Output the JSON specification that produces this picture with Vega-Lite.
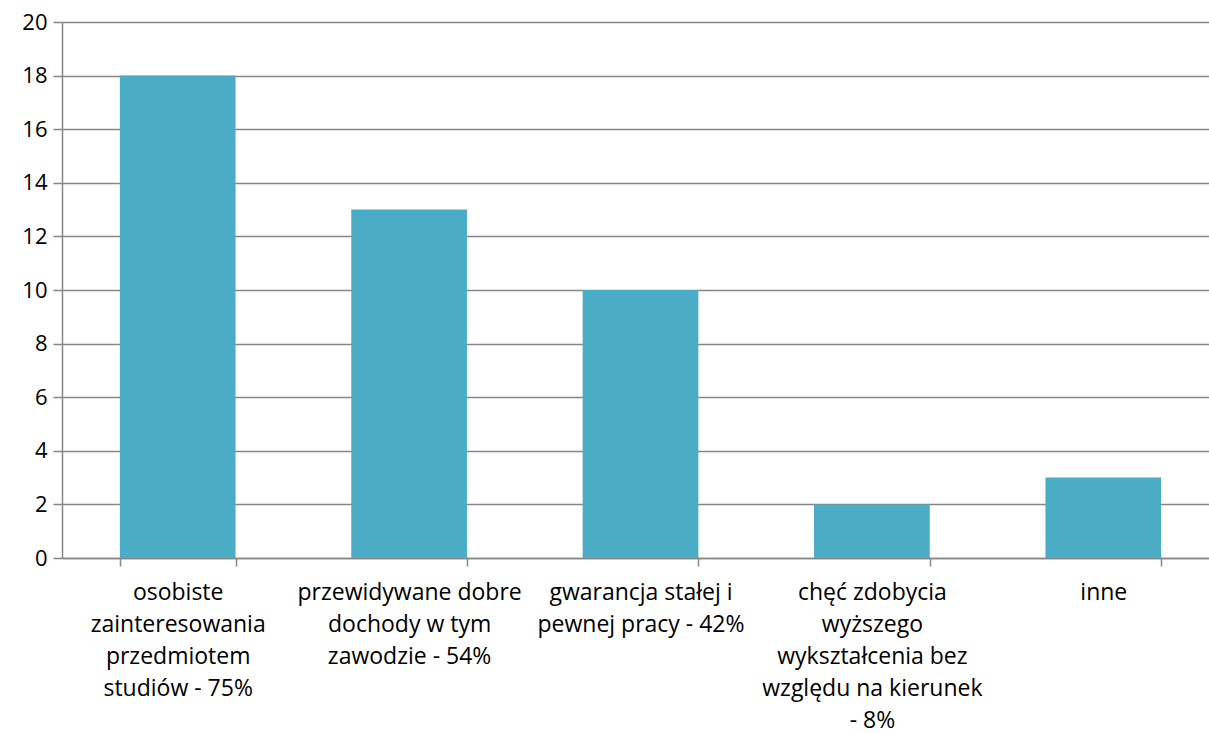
{
  "$schema": "https://vega.github.io/schema/vega-lite/v6.json",
  "width": 1157,
  "height": 536,
  "autosize": {"type": "none"},
  "padding": {"left": 62, "top": 22, "right": -10, "bottom": 175},
  "background": "white",
  "data": {
    "values": [
      {"kategoria": "osobiste\nzainteresowania\nprzedmiotem\nstudiów - 75%", "liczba": 18},
      {"kategoria": "przewidywane dobre\ndochody w tym\nzawodzie - 54%", "liczba": 13},
      {"kategoria": "gwarancja stałej i\npewnej pracy - 42%", "liczba": 10},
      {"kategoria": "chęć zdobycia\nwyższego\nwykształcenia bez\nwzględu na kierunek\n- 8%", "liczba": 2},
      {"kategoria": "inne", "liczba": 3}
    ]
  },
  "mark": {"type": "bar", "color": "#4BACC6"},
  "encoding": {
    "x": {
      "field": "kategoria",
      "type": "nominal",
      "sort": null,
      "scale": {"paddingInner": 0.5, "paddingOuter": 0.25},
      "axis": {
        "title": null,
        "labelAngle": 0,
        "labelExpr": "split(datum.label, '\\n')",
        "labelFont": "Open Sans",
        "labelFontSize": 23,
        "labelColor": "#000000",
        "labelLineHeight": 32,
        "labelPadding": 15,
        "labelLimit": 0,
        "tickBand": "extent",
        "tickSize": 8,
        "tickColor": "#868686",
        "tickWidth": 1.5,
        "domainColor": "#868686",
        "domainWidth": 1.5,
        "grid": false
      }
    },
    "y": {
      "field": "liczba",
      "type": "quantitative",
      "scale": {"domain": [0, 20], "nice": false},
      "axis": {
        "title": null,
        "values": [0, 2, 4, 6, 8, 10, 12, 14, 16, 18, 20],
        "labelFont": "Open Sans",
        "labelFontSize": 22,
        "labelColor": "#000000",
        "labelPadding": 6,
        "tickSize": 9,
        "tickColor": "#868686",
        "tickWidth": 1.5,
        "domainColor": "#868686",
        "domainWidth": 1.5,
        "grid": true,
        "gridColor": "#868686",
        "gridWidth": 1.5
      }
    }
  },
  "config": {"view": {"stroke": null}}
}
